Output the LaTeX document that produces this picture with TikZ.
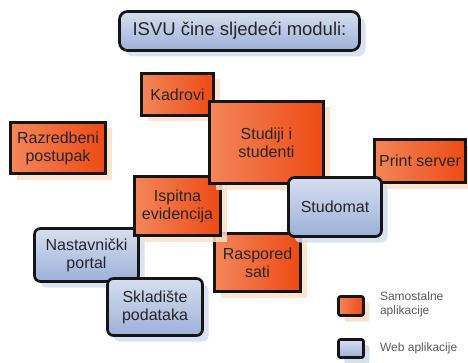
\documentclass[tikz,border=0pt]{standalone}
\usepackage{fontspec}
\setmainfont{Liberation Sans}
\usepackage{tikz}
\usetikzlibrary{shadows,positioning,shapes}
\definecolor{orlight}{HTML}{F3865A}
\definecolor{ormid}{HTML}{F0622A}
\definecolor{ordark}{HTML}{EE4A14}
\definecolor{bllight}{HTML}{D6DFF0}
\definecolor{bldark}{HTML}{9CB0D8}
\definecolor{orshadow}{HTML}{FBE0C8}
\definecolor{blshadow}{HTML}{D3DDEE}
\definecolor{boxline}{HTML}{151515}
\definecolor{txt}{HTML}{262626}
\tikzset{
  modbox/.style={draw=boxline, line width=2.7pt, text=txt, align=center,
    inner sep=2pt, font=\fontsize{16}{18}\selectfont},
  orangebox/.style={modbox, left color=orlight, middle color=ormid, right color=ordark,
    drop shadow={shadow xshift=6pt, shadow yshift=-6pt, fill=orshadow, opacity=0.85}},
  bluebox/.style={modbox, rounded corners=6pt, top color=bllight, bottom color=bldark,
    drop shadow={shadow xshift=6pt, shadow yshift=-6pt, fill=blshadow, opacity=0.85}},
  legtext/.style={text=txt!75, align=left, anchor=west, inner sep=0pt,
    font=\fontsize{12}{14}\selectfont}
}
\begin{document}
\begin{tikzpicture}[x=1pt,y=1pt]
 \fill[white] (0,0) rectangle (468,362);
 \useasboundingbox (0,0) rectangle (468,362);
% title
 \node[bluebox, rounded corners=8pt, minimum width=240pt, minimum height=39pt,
   font=\fontsize{18.5}{20}\selectfont] (title) at (239.5,331) {ISVU čine sljedeći moduli:};
% modules
 \node[bluebox, minimum width=104pt, minimum height=53pt] (portal) at (86.5,107) {Nastavnički\\portal};
 \node[orangebox, minimum width=86pt, minimum height=58pt] (raspored) at (257.5,99.5) {Raspored\\sati};
 \node[orangebox, minimum width=86pt, minimum height=59pt] (ispitna) at (177.5,156) {Ispitna\\evidencija};
 \node[orangebox, minimum width=72pt, minimum height=42pt] (kadrovi) at (177.5,267.5) {Kadrovi};
 \node[orangebox, minimum width=114pt, minimum height=82pt] (studiji) at (266.5,219.5) {Studiji i\\studenti};
 \node[orangebox, minimum width=95pt, minimum height=51pt] (razredbeni) at (58,214) {Razredbeni\\postupak};
 \node[orangebox, minimum width=91pt, minimum height=43pt] (print) at (420,201) {Print server};
 \node[bluebox, minimum width=93pt, minimum height=59pt] (studomat) at (335,155) {Studomat};
 \node[bluebox, minimum width=95pt, minimum height=57pt] (skladiste) at (155,55) {Skladište\\podataka};
% legend
 \node[orangebox, rounded corners=2pt, minimum width=25pt, minimum height=19pt,
   drop shadow={shadow xshift=5pt, shadow yshift=-5pt, fill=orshadow}] (legor) at (351,56) {};
 \node[bluebox, rounded corners=2pt, minimum width=25pt, minimum height=18pt,
   drop shadow={shadow xshift=5pt, shadow yshift=-5pt, fill=blshadow}] (legbl) at (351,13.5) {};
 \node[legtext, right=15pt of legor.east, yshift=2pt] (legortext) {Samostalne\\aplikacije};
 \node[legtext, right=15pt of legbl.east] (legbltext) {Web aplikacije};
\end{tikzpicture}
\end{document}
